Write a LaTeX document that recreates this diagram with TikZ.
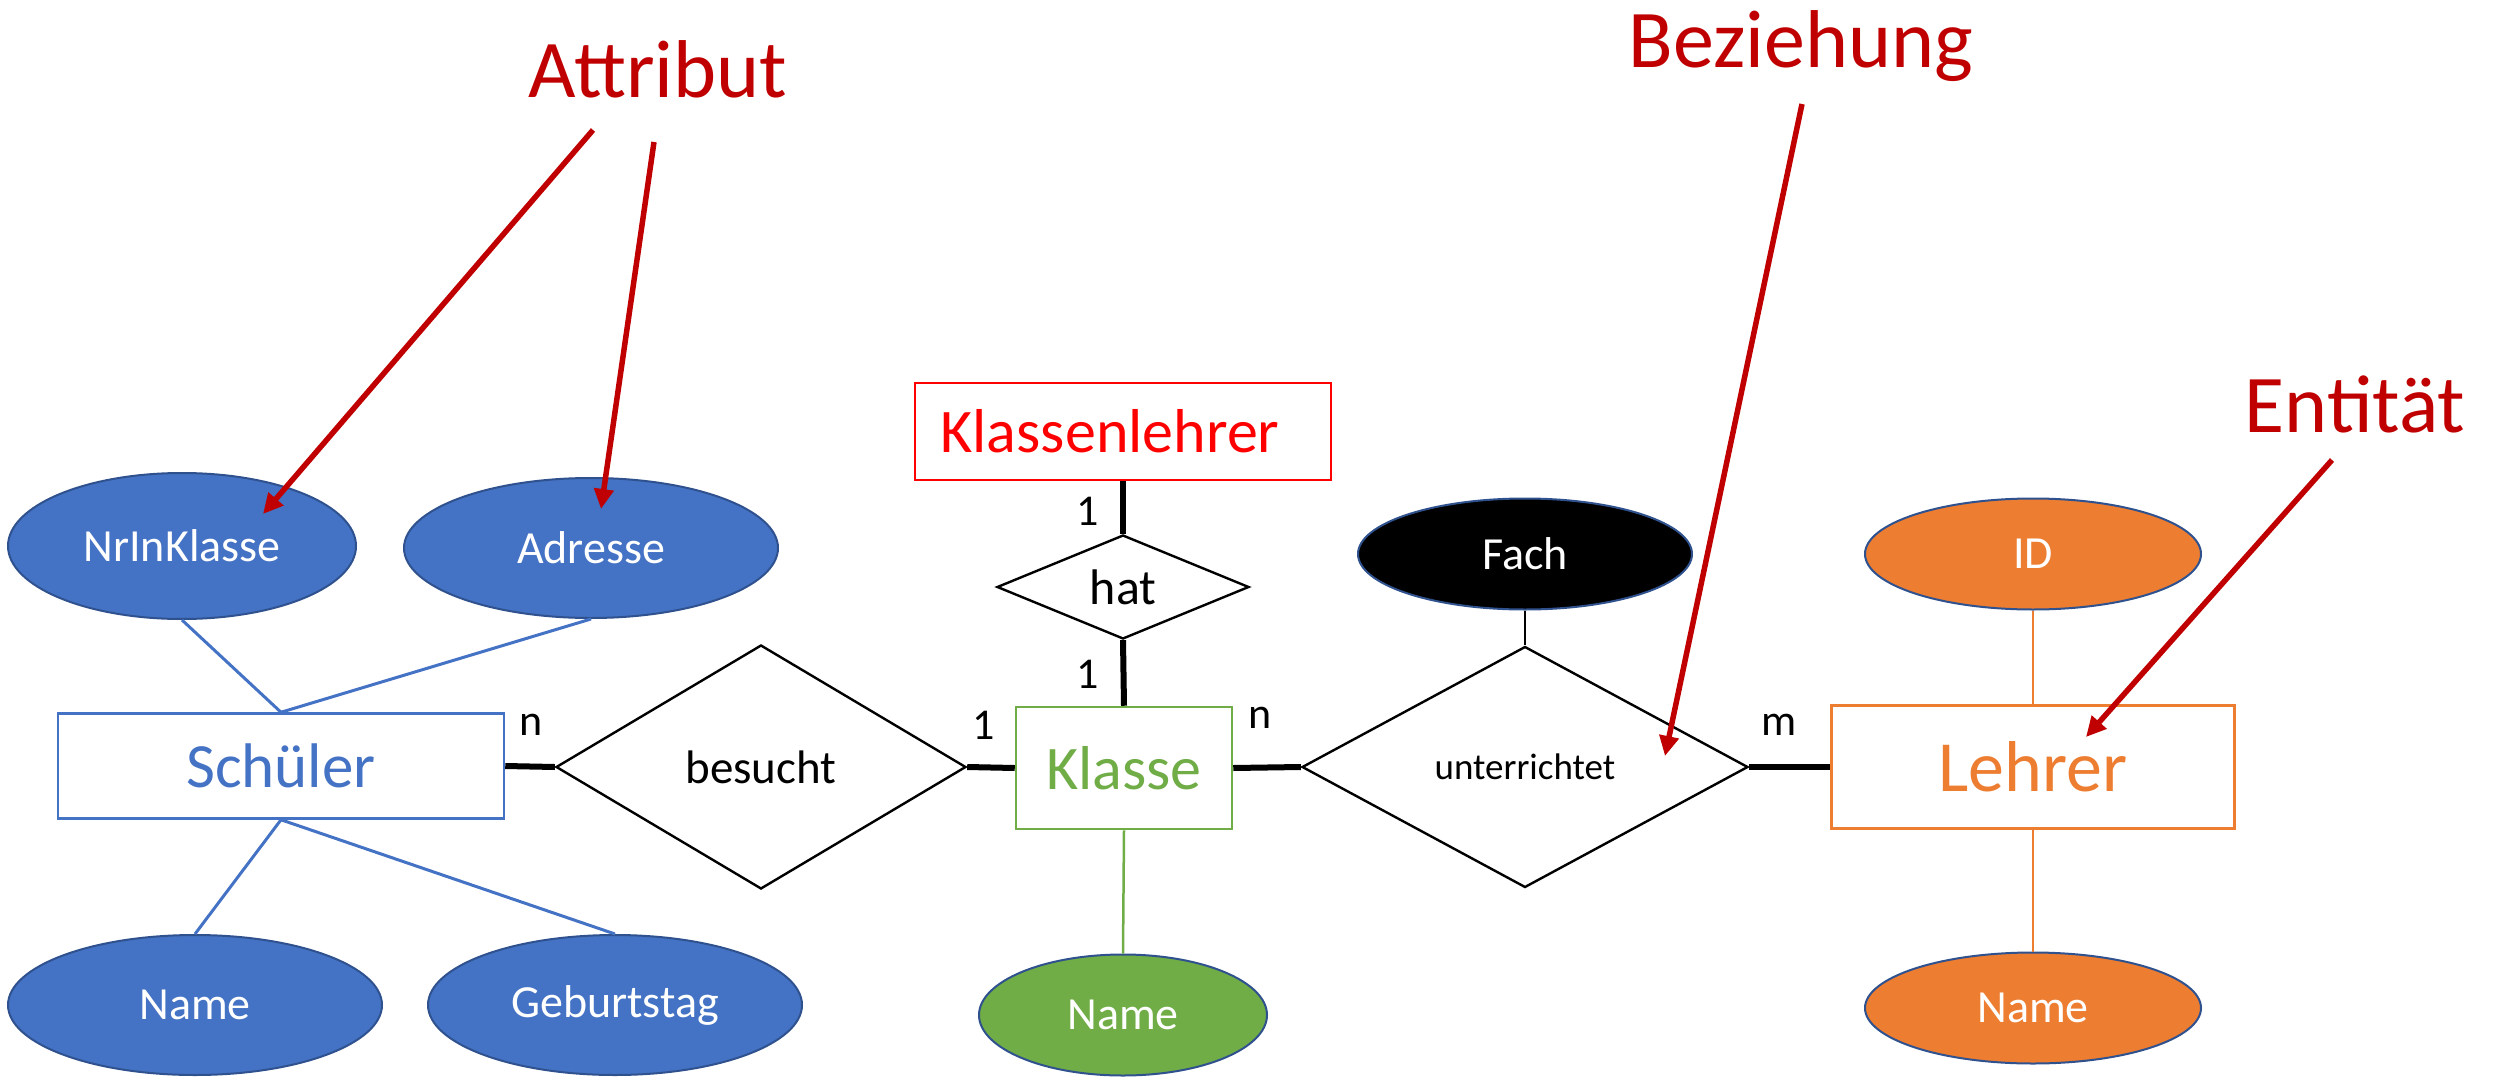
\documentclass[tikz,border=0pt]{standalone}
\usepackage{fontspec}
\setmainfont{Carlito}
\usetikzlibrary{shapes.geometric,arrows.meta}
\definecolor{attblue}{HTML}{4472C4}
\definecolor{attborder}{HTML}{2F528F}
\definecolor{kgreen}{HTML}{70AD47}
\definecolor{lorange}{HTML}{ED7D31}
\definecolor{annred}{HTML}{C00000}
\begin{document}
\begin{tikzpicture}[x=1pt,y=-1pt,
 attr/.style={ellipse, draw=attborder, line width=2pt, inner sep=0pt, text=white, font=\fontsize{46}{50}\selectfont},
 entity/.style={rectangle, line width=2.5pt, fill=white, inner sep=0pt},
 rel/.style={diamond, draw=black, line width=2.4pt, inner sep=0pt, aspect=2},
 card/.style={font=\fontsize{44}{48}\selectfont, inner sep=0pt},
 ann/.style={text=annred, font=\fontsize{82}{90}\selectfont, inner sep=0pt, anchor=base},
 annarrow/.style={draw=annred, line width=5.5pt, -{Triangle[length=20pt,width=19pt]}},
 thickline/.style={line width=6pt},
 attline/.style={line width=3pt},
]
\useasboundingbox (0,0) rectangle (2501,1081);
% Schueler
\node[attr, fill=attblue, minimum width=348pt, minimum height=146pt] (nrin) at (182,546) {NrInKlasse};
\node[attr, fill=attblue, minimum width=374pt, minimum height=140pt] (adr) at (591,548) {Adresse};
\node[entity, draw=attblue, text=attblue, minimum width=446pt, minimum height=105pt, font=\fontsize{63}{70}\selectfont] (schueler) at (281,766) {Schüler};
\node[attr, fill=attblue, minimum width=374pt, minimum height=140pt] (sname) at (195,1005) {Name};
\node[attr, fill=attblue, minimum width=374pt, minimum height=140pt] (geb) at (615,1005) {Geburtstag};
% relations
\node[rel, minimum width=410pt, minimum height=244pt, font=\fontsize{47}{50}\selectfont] (besucht) at (761,767) {besucht};
\node[entity, draw=red, text=red, line width=2pt, minimum width=416pt, minimum height=97pt, font=\fontsize{62}{68}\selectfont] (klehrer) at (1123,431) {Klassenlehrer\hspace*{26pt}};
\node[rel, minimum width=252pt, minimum height=104pt, font=\fontsize{50}{54}\selectfont] (hat) at (1123,587) {hat};
\node[entity, draw=kgreen, text=kgreen, minimum width=216pt, minimum height=122pt, font=\fontsize{62}{68}\selectfont] (klasse) at (1124,768) {Klasse};
\node[attr, fill=kgreen, minimum width=288pt, minimum height=121pt] (kname) at (1123,1015) {Name};
\node[rel, minimum width=446pt, minimum height=241pt, font=\fontsize{37}{40}\selectfont] (unt) at (1525,767) {unterrichtet};
\node[attr, fill=black, minimum width=334pt, minimum height=111pt] (fach) at (1525,554) {Fach};
% Lehrer
\node[entity, draw=lorange, text=lorange, minimum width=403pt, minimum height=123pt, font=\fontsize{72}{78}\selectfont] (lehrer) at (2033,767) {Lehrer};
\node[attr, fill=lorange, minimum width=336pt, minimum height=111pt] (id) at (2033,554) {ID};
\node[attr, fill=lorange, minimum width=336pt, minimum height=111pt] (lname) at (2033,1008) {Name};
% connections
\draw[attline, attblue] (nrin.south) -- (schueler.north);
\draw[attline, attblue] (adr.south) -- (schueler.north);
\draw[attline, attblue] (schueler.south) -- (sname.north);
\draw[attline, attblue] (schueler.south) -- (geb.north);
\draw[thickline] (schueler.east) -- (besucht.west);
\draw[thickline] (besucht.east) -- (klasse.west);
\draw[thickline] (klehrer.south) -- (hat.north);
\draw[thickline] (hat.south) -- (klasse.north);
\draw[thickline] (klasse.east) -- (unt.west);
\draw[thickline] (unt.east) -- (lehrer.west);
\draw[line width=2.5pt] (fach.south) -- (unt.north);
\draw[line width=2.5pt, kgreen] (klasse.south) -- (kname.north);
\draw[line width=2.5pt, lorange] (id.south) -- (lehrer.north);
\draw[line width=2.5pt, lorange] (lehrer.south) -- (lname.north);
% cardinalities
\node[card] (c1) at (531,725) {n};
\node[card] (c2) at (984,725) {1};
\node[card] (c3) at (1088,511) {1};
\node[card] (c4) at (1088,674) {1};
\node[card] (c5) at (1260,718) {n};
\node[card] (c6) at (1779,725) {m};
% annotations
\node[ann] (tattr) at (658,98) {Attribut};
\node[ann] (tbez) at (1801,67) {Beziehung};
\node[ann] (tent) at (2355,432) {Entität};
\coordinate (a1s) at (593,130);
\coordinate (a1e) at (263,514);
\coordinate (a2s) at (654,142);
\coordinate (a2e) at (601,509);
\coordinate (a3s) at (1802,104);
\coordinate (a3e) at (1665,756);
\coordinate (a4s) at (2332,460);
\coordinate (a4e) at (2086,737);
\draw[annarrow] (a1s) -- (a1e);
\draw[annarrow] (a2s) -- (a2e);
\draw[annarrow] (a3s) -- (a3e);
\draw[annarrow] (a4s) -- (a4e);
\end{tikzpicture}
\end{document}
